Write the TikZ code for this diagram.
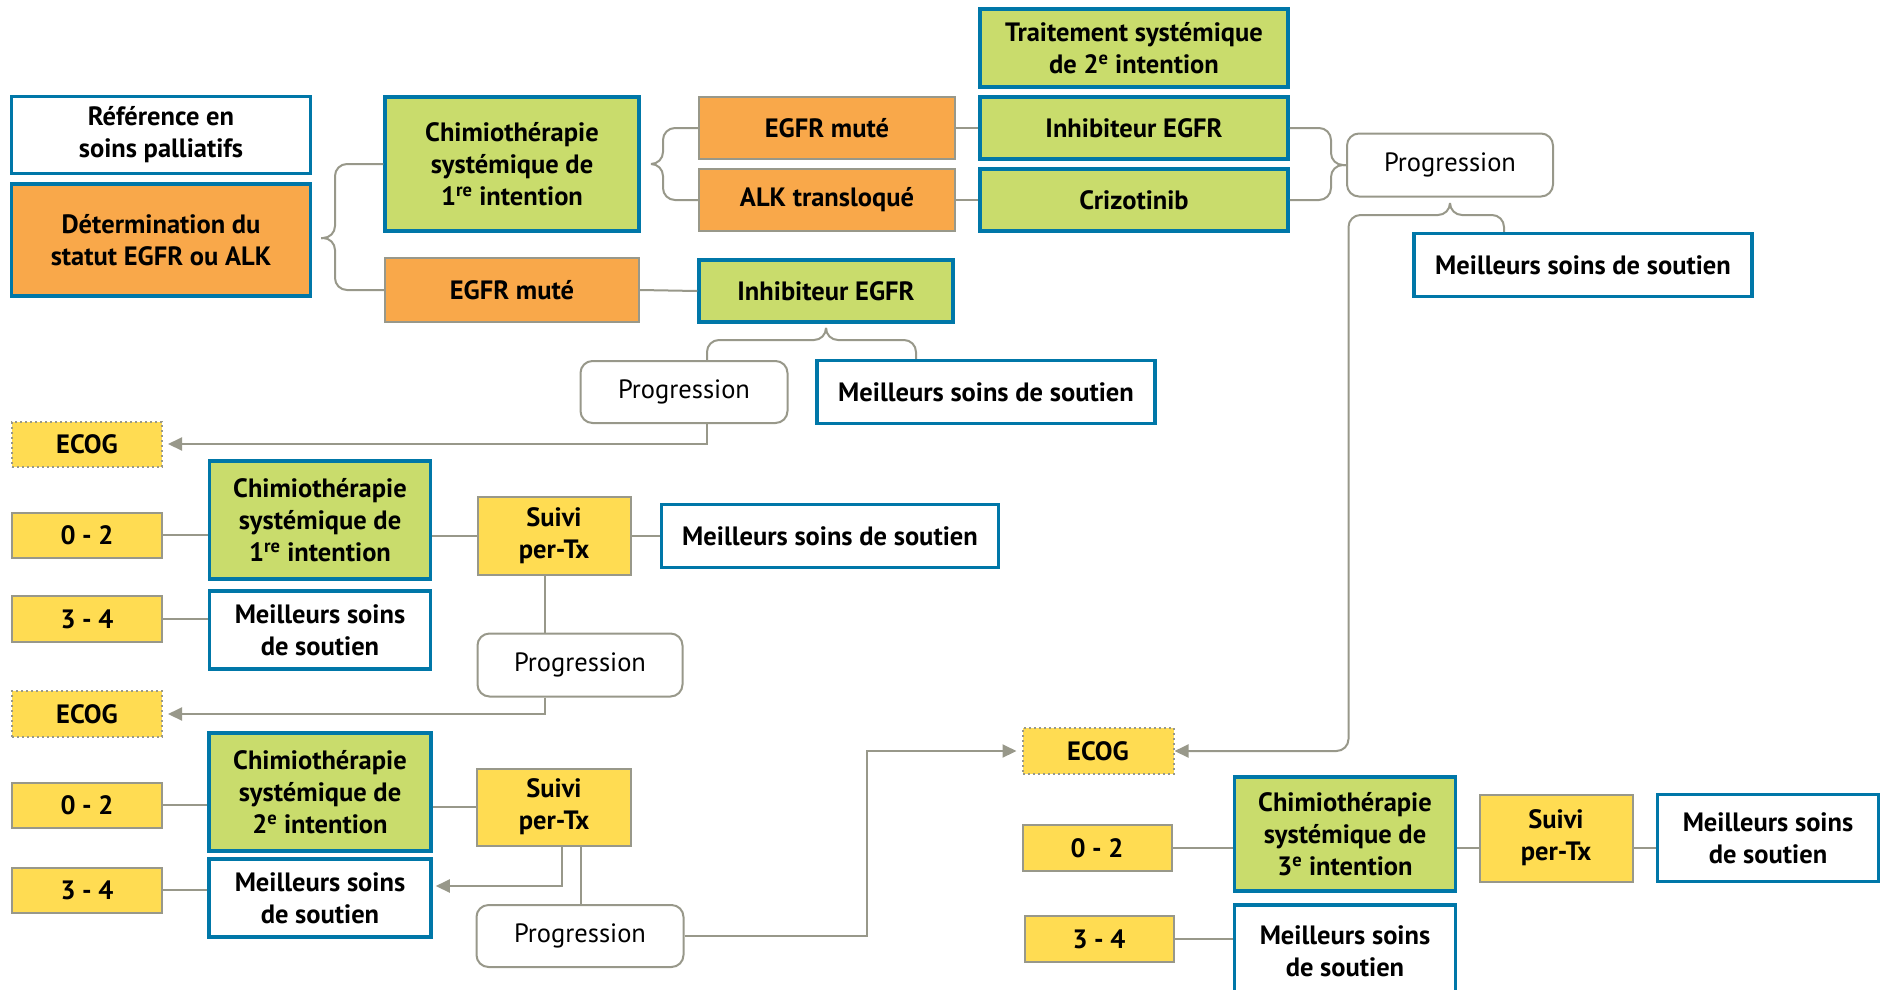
\documentclass[tikz,border=0pt]{standalone}
\usepackage{fontspec}
\setmainfont{PT Sans}
\usetikzlibrary{arrows.meta}
\definecolor{grn}{RGB}{201,220,108}
\definecolor{blu}{RGB}{0,119,168}
\definecolor{org}{RGB}{249,168,74}
\definecolor{yel}{RGB}{255,220,82}
\definecolor{gry}{RGB}{152,152,138}
\tikzset{
  box/.style={align=center,inner sep=0pt,text=black,
    font=\fontsize{26.5}{32}\selectfont\bfseries},
  greenbox/.style={box,fill=grn,draw=blu,line width=3.5pt},
  orangebox/.style={box,fill=org,draw=gry,line width=2pt},
  whitebox/.style={box,fill=white,draw=blu,line width=3.5pt},
  yellowbox/.style={box,fill=yel,draw=gry,line width=2pt},
  ecogbox/.style={box,fill=yel,draw=gry,line width=2pt,dash pattern=on 2pt off 3pt},
  progbox/.style={box,font=\fontsize{26.5}{32}\selectfont,fill=white,draw=gry,
    line width=2pt,rounded corners=12pt},
  conn/.style={draw=gry,line width=2pt},
  >={Triangle[length=14pt,width=13pt]}
}
\begin{document}
\begin{tikzpicture}[x=1pt,y=-1pt]
\useasboundingbox (0,0) rectangle (1884,989);
% premiere ligne
\path (1134,48) node[greenbox,minimum width=308,minimum height=78](tr2){Traitement systémique\\de 2\textsuperscript{e} intention}
      (161,135) node[whitebox,minimum width=299,minimum height=77](ref){Référence en\\soins palliatifs}
      (161,240) node[orangebox,draw=blu,line width=3.5pt,minimum width=299,minimum height=112](det){Détermination du\\statut EGFR ou ALK}
      (512,164) node[greenbox,minimum width=254,minimum height=134](ch1){Chimiothérapie\\systémique de\\1\textsuperscript{re} intention}
      (827,128) node[orangebox,minimum width=256,minimum height=62](egm1){EGFR muté}
      (827,200) node[orangebox,minimum width=256,minimum height=62](alk){ALK transloqué}
      (1134,128) node[greenbox,minimum width=308,minimum height=62](inh1){Inhibiteur EGFR}
      (1134,200) node[greenbox,minimum width=308,minimum height=62](criz){Crizotinib}
      (1450,165) node[progbox,minimum width=206,minimum height=63](prog1){Progression}
      (1583,265) node[whitebox,minimum width=338,minimum height=63](mss1){Meilleurs soins de soutien}
      (512,290) node[orangebox,minimum width=254,minimum height=64](egm2){EGFR muté}
      (826,291) node[greenbox,minimum width=254,minimum height=62](inh2){Inhibiteur EGFR}
      (684,392) node[progbox,minimum width=207,minimum height=62](prog2){Progression}
      (986,392) node[whitebox,minimum width=338,minimum height=63](mss2){Meilleurs soins de soutien};
% ECOG apres 1re progression
\path (87,444) node[ecogbox,minimum width=150,minimum height=45](ecog1){ECOG}
      (87,535) node[yellowbox,minimum width=150,minimum height=45](s02a){0 - 2}
      (320,520) node[greenbox,minimum width=221,minimum height=118](ch2){Chimiothérapie\\systémique de\\1\textsuperscript{re} intention}
      (554,536) node[yellowbox,minimum width=153,minimum height=78](sv1){Suivi\\per-Tx}
      (830,536) node[whitebox,minimum width=337,minimum height=63](mss3){Meilleurs soins de soutien}
      (87,619) node[yellowbox,minimum width=150,minimum height=46](s34a){3 - 4}
      (320,630) node[whitebox,minimum width=221,minimum height=78](mss4){Meilleurs soins\\de soutien}
      (580,665) node[progbox,minimum width=205,minimum height=63](prog3){Progression};
% ECOG apres 2e progression
\path (87,714) node[ecogbox,minimum width=150,minimum height=46](ecog2){ECOG}
      (87,805) node[yellowbox,minimum width=150,minimum height=45](s02b){0 - 2}
      (320,792) node[greenbox,minimum width=222,minimum height=118](ch3){Chimiothérapie\\systémique de\\2\textsuperscript{e} intention}
      (554,807) node[yellowbox,minimum width=154,minimum height=77](sv2){Suivi\\per-Tx}
      (87,890) node[yellowbox,minimum width=150,minimum height=45](s34b){3 - 4}
      (320,898) node[whitebox,minimum width=222,minimum height=78](mss5){Meilleurs soins\\de soutien}
      (580,936) node[progbox,minimum width=207,minimum height=62](prog4){Progression};
% ECOG apres 3e progression
\path (1098,751) node[ecogbox,minimum width=151,minimum height=46](ecog3){ECOG}
      (1097,848) node[yellowbox,minimum width=149,minimum height=46](s02c){0 - 2}
      (1345,834) node[greenbox,minimum width=221,minimum height=114](ch4){Chimiothérapie\\systémique de\\3\textsuperscript{e} intention}
      (1556,838) node[yellowbox,minimum width=153,minimum height=87](sv3){Suivi\\per-Tx}
      (1768,838) node[whitebox,minimum width=221,minimum height=87](mss6){Meilleurs soins\\de soutien}
      (1099,939) node[yellowbox,minimum width=149,minimum height=46](s34c){3 - 4}
      (1345,951) node[whitebox,minimum width=221,minimum height=92](mss7){Meilleurs soins\\de soutien};
% accolades
\coordinate (t1) at (321,238);
\coordinate (t2) at (651,164);
\coordinate (t3) at (1450,203);
\coordinate (t4) at (826,330);
\draw[conn,rounded corners=12pt] (ch1.west) -| ([xshift=14pt]t1) -- (t1);
\draw[conn,rounded corners=12pt] (egm2.west) -| ([xshift=14pt]t1) -- (t1);
\draw[conn,rounded corners=12pt] (egm1.west) -| ([xshift=12pt]t2) -- (t2);
\draw[conn,rounded corners=12pt] (alk.west) -| ([xshift=12pt]t2) -- (t2);
\draw[conn,rounded corners=12pt] (inh1.east) -| ([xshift=-15pt]prog1.west) -- (prog1.west);
\draw[conn,rounded corners=12pt] (criz.east) -| ([xshift=-15pt]prog1.west) -- (prog1.west);
\draw[conn,rounded corners=12pt] (t3) -- ++(0,12) -| ([xshift=-79pt]mss1.north);
\draw[conn,->,rounded corners=12pt] (t3) -- ++(0,12) -| ([xshift=174pt]ecog3.east) -- (ecog3.east);
\draw[conn,rounded corners=12pt] (t4) -- ++(0,10) -| ([xshift=-70pt]mss2.north);
\draw[conn,rounded corners=12pt] (t4) -- ++(0,10) -| ([xshift=23pt]prog2.north);
% liens
\draw[conn] (egm1.east) -- (inh1.west);
\draw[conn] (alk.east) -- (criz.west);
\draw[conn] (egm2.east) -- (inh2.west);
\draw[conn,->,shorten >=5pt] ([xshift=23pt]prog2.south) |- (ecog1.east);
\draw[conn] (s02a.east) -- (s02a.east -| ch2.west);
\draw[conn] (sv1.west -| ch2.east) -- (sv1.west);
\draw[conn] (sv1.east) -- (mss3.west);
\draw[conn] (s34a.east) -- (s34a.east -| mss4.west);
\draw[conn] ([xshift=-9pt]sv1.south) -- ([xshift=-9pt]sv1.south |- prog3.north);
\draw[conn,->,shorten >=5pt] ([xshift=-9pt]sv1.south |- prog3.south) |- (ecog2.east);
\draw[conn] (s02b.east) -- (s02b.east -| ch3.west);
\draw[conn] (sv2.west -| ch3.east) -- (sv2.west);
\draw[conn,->,shorten >=3pt] ([xshift=8pt]sv2.south) |- ([yshift=12pt]mss5.east);
\draw[conn] ([xshift=27pt]sv2.south) -- ([xshift=27pt]sv2.south |- prog4.north);
\draw[conn] (s34b.east) -- (s34b.east -| mss5.west);
\draw[conn,->,shorten >=5pt] (prog4.east) -| ([xshift=-155pt]ecog3.west) -- (ecog3.west);
\draw[conn] (s02c.east) -- (s02c.east -| ch4.west);
\draw[conn] (s02c.east -| ch4.east) -- (s02c.east -| sv3.west);
\draw[conn] (s02c.east -| sv3.east) -- (s02c.east -| mss6.west);
\draw[conn] (s34c.east) -- (s34c.east -| mss7.west);
\end{tikzpicture}
\end{document}
